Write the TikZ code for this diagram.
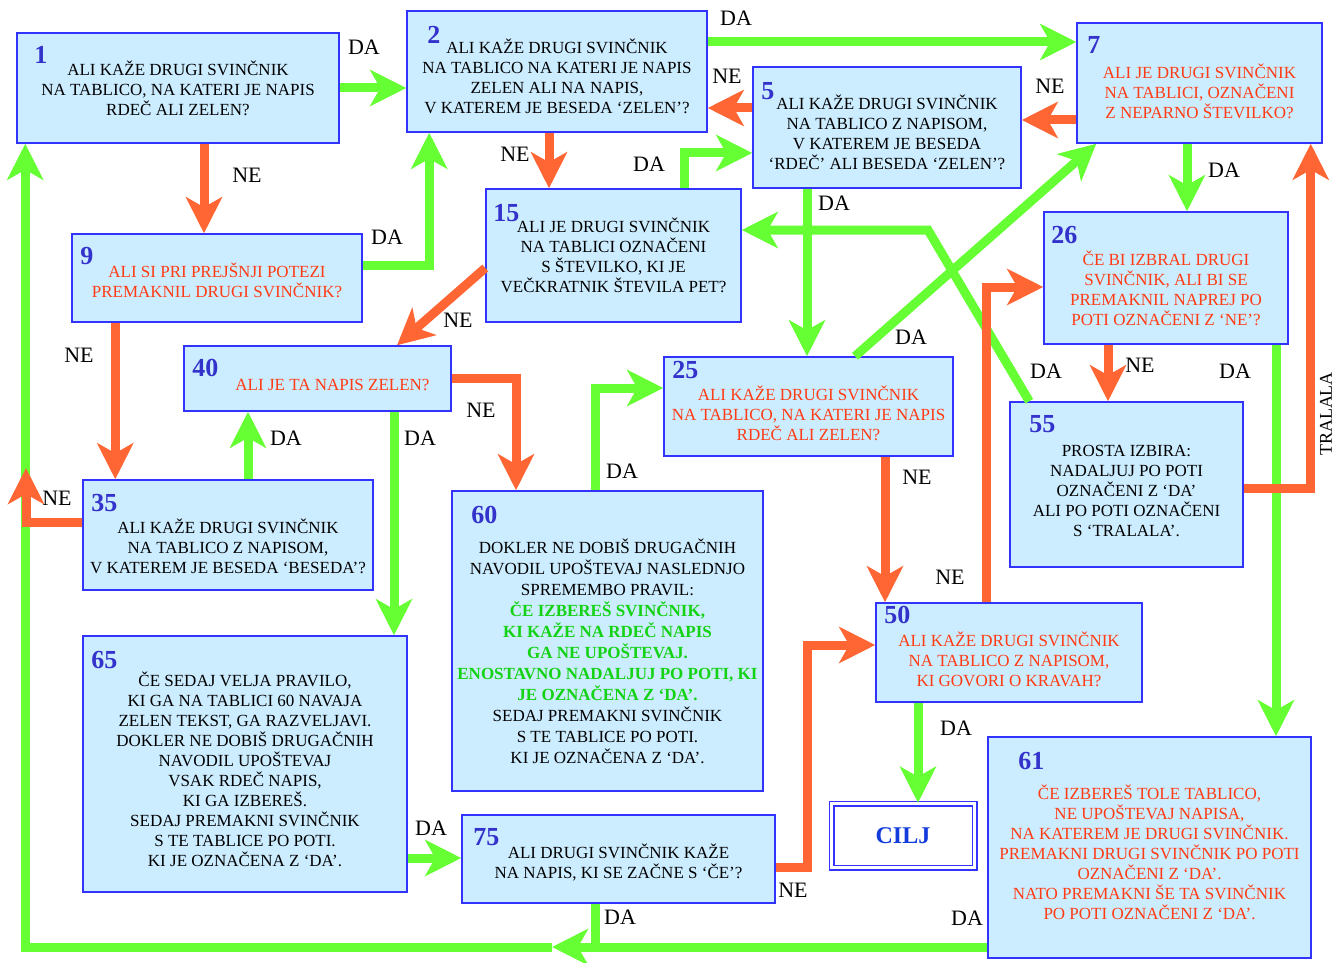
\documentclass[tikz,border=0pt]{standalone}
\usepackage{fontspec}
\setmainfont{Liberation Serif}
\usetikzlibrary{arrows.meta}

\definecolor{boxfill}{RGB}{204,236,255}
\definecolor{boxline}{RGB}{51,51,255}
\definecolor{numblue}{RGB}{51,51,204}
\definecolor{redtext}{RGB}{255,60,20}
\definecolor{greentext}{RGB}{20,210,20}
\definecolor{linegreen}{RGB}{102,255,51}
\definecolor{lineorange}{RGB}{255,102,51}
\definecolor{ciljblue}{RGB}{20,60,220}

\newcommand{\grn}[1]{\textcolor{greentext}{\textbf{#1}}}
\newcommand{\topgap}[1]{\rule{0pt}{#1}}

\begin{document}
\begin{tikzpicture}[x=1pt, y=-1pt,
  box/.style={rectangle, draw=boxline, line width=1.5pt, fill=boxfill, align=center, inner sep=0pt, font=\fontsize{17}{20}\selectfont},
  rbox/.style={box, text=redtext},
  num/.style={anchor=north west, inner sep=0pt, text=numblue, font=\fontsize{26}{26}\selectfont\bfseries},
  goal/.style={rectangle, draw=boxline, double=white, double distance=3pt, line width=1.5pt, fill=white, inner sep=0pt, text=ciljblue, font=\fontsize{24}{24}\selectfont\bfseries},
  daline/.style={line width=9pt, draw=linegreen},
  daflow/.style={daline, -{Stealth[length=36pt, width=36pt, inset=10pt]}},
  neflow/.style={line width=9pt, draw=lineorange, -{Stealth[length=36pt, width=36pt, inset=10pt]}},
  lbl/.style={inner sep=0pt, text=black, font=\fontsize{22}{22}\selectfont}
]
  \useasboundingbox (0,0) rectangle (1342,963);

  % boxes
  \node[box, minimum width=322pt, minimum height=110pt, label={[num, xshift=18pt, yshift=-14pt]north west:1}] (b1) at (178,88)
    {ALI KAŽE DRUGI SVINČNIK\\NA TABLICO, NA KATERI JE NAPIS\\RDEČ ALI ZELEN?};
  \node[box, minimum width=300pt, minimum height=121pt, label={[num, xshift=21pt, yshift=-16pt]north west:2}] (b2) at (557,71.5)
    {\topgap{25pt}ALI KAŽE DRUGI SVINČNIK\\NA TABLICO NA KATERI JE NAPIS\\ZELEN ALI NA NAPIS,\\V KATEREM JE BESEDA ‘ZELEN’?};
  \node[rbox, minimum width=245pt, minimum height=120pt, label={[num, xshift=11pt, yshift=-14pt]north west:7}] (b7) at (1199.5,83)
    {\topgap{31pt}ALI JE DRUGI SVINČNIK\\NA TABLICI, OZNAČENI\\Z NEPARNO ŠTEVILKO?};
  \node[box, minimum width=268pt, minimum height=121pt, label={[num, xshift=9pt, yshift=-16pt]north west:5}] (b5) at (887,127.5)
    {\topgap{25pt}ALI KAŽE DRUGI SVINČNIK\\NA TABLICO Z NAPISOM,\\V KATEREM JE BESEDA\\‘RDEČ’ ALI BESEDA ‘ZELEN’?};
  \node[box, minimum width=255pt, minimum height=133pt, label={[num, xshift=8pt, yshift=-16pt]north west:15}] (b15) at (613.5,255.5)
    {ALI JE DRUGI SVINČNIK\\NA TABLICI OZNAČENI\\S ŠTEVILKO, KI JE\\VEČKRATNIK ŠTEVILA PET?};
  \node[rbox, minimum width=290pt, minimum height=88pt, label={[num, xshift=9pt, yshift=-14pt]north west:9}] (b9) at (217,278)
    {\topgap{19pt}ALI SI PRI PREJŠNJI POTEZI\\PREMAKNIL DRUGI SVINČNIK?};
  \node[rbox, minimum width=244pt, minimum height=132pt, label={[num, xshift=8pt, yshift=-15pt]north west:26}] (b26) at (1166,278)
    {\topgap{35pt}ČE BI IZBRAL DRUGI\\SVINČNIK, ALI BI SE\\PREMAKNIL NAPREJ PO\\POTI OZNAČENI Z ‘NE’?};
  \node[rbox, minimum width=267pt, minimum height=65pt, label={[num, xshift=9pt, yshift=-14pt]north west:40}] (b40) at (317.5,378.5)
    {\topgap{24pt}\hspace*{30pt}ALI JE TA NAPIS ZELEN?};
  \node[rbox, minimum width=289pt, minimum height=99pt, label={[num, xshift=9pt, yshift=-5pt]north west:25}] (b25) at (808.5,406.5)
    {\topgap{29pt}ALI KAŽE DRUGI SVINČNIK\\NA TABLICO, NA KATERI JE NAPIS\\RDEČ ALI ZELEN?};
  \node[box, minimum width=233pt, minimum height=165pt, label={[num, xshift=20pt, yshift=-14pt]north west:55}] (b55) at (1126.5,484.5)
    {\topgap{25pt}PROSTA IZBIRA:\\NADALJUJ PO POTI\\OZNAČENI Z ‘DA’\\ALI PO POTI OZNAČENI\\S ‘TRALALA’.};
  \node[box, minimum width=290pt, minimum height=110pt, label={[num, xshift=9pt, yshift=-15pt]north west:35}] (b35) at (228,535)
    {\topgap{37pt}ALI KAŽE DRUGI SVINČNIK\\NA TABLICO Z NAPISOM,\\V KATEREM JE BESEDA ‘BESEDA’?};
  \node[box, font=\fontsize{17}{21}\selectfont, minimum width=311pt, minimum height=300pt, label={[num, xshift=20pt, yshift=-16pt]north west:60}] (b60) at (607.5,641)
    {\topgap{36pt}DOKLER NE DOBIŠ DRUGAČNIH\\NAVODIL UPOŠTEVAJ NASLEDNJO\\SPREMEMBO PRAVIL:\\
     \grn{ČE IZBEREŠ SVINČNIK,}\\\grn{KI KAŽE NA RDEČ NAPIS}\\\grn{GA NE UPOŠTEVAJ.}\\
     \grn{ENOSTAVNO NADALJUJ PO POTI, KI}\\\grn{JE OZNAČENA Z ‘DA’.}\\
     SEDAJ PREMAKNI SVINČNIK\\S TE TABLICE PO POTI.\\KI JE OZNAČENA Z ‘DA’.};
  \node[box, minimum width=324pt, minimum height=256pt, label={[num, xshift=9pt, yshift=-16pt]north west:65}] (b65) at (245,764)
    {\topgap{25pt}ČE SEDAJ VELJA PRAVILO,\\KI GA NA TABLICI 60 NAVAJA\\ZELEN TEKST, GA RAZVELJAVI.\\DOKLER NE DOBIŠ DRUGAČNIH\\NAVODIL UPOŠTEVAJ\\VSAK RDEČ NAPIS,\\KI GA IZBEREŠ.\\SEDAJ PREMAKNI SVINČNIK\\S TE TABLICE PO POTI.\\KI JE OZNAČENA Z ‘DA’.};
  \node[rbox, minimum width=266pt, minimum height=99pt, label={[num, xshift=9pt, yshift=-4pt]north west:50}] (b50) at (1009,652.5)
    {\topgap{29pt}ALI KAŽE DRUGI SVINČNIK\\NA TABLICO Z NAPISOM,\\KI GOVORI O KRAVAH?};
  \node[goal, minimum width=143pt, minimum height=64pt] (bcilj) at (903,835.5) {CILJ};
  \node[rbox, minimum width=323pt, minimum height=221pt, label={[num, xshift=31pt, yshift=-16pt]north west:61}] (b61) at (1149.5,847.5)
    {\topgap{24pt}ČE IZBEREŠ TOLE TABLICO,\\NE UPOŠTEVAJ NAPISA,\\NA KATEREM JE DRUGI SVINČNIK.\\PREMAKNI DRUGI SVINČNIK PO POTI\\OZNAČENI Z ‘DA’.\\NATO PREMAKNI ŠE TA SVINČNIK\\PO POTI OZNAČENI Z ‘DA’.};
  \node[box, minimum width=313pt, minimum height=88pt, label={[num, xshift=12pt, yshift=-14pt]north west:75}] (b75) at (618.5,859)
    {\topgap{21pt}ALI DRUGI SVINČNIK KAŽE\\NA NAPIS, KI SE ZAČNE S ‘ČE’?};

  % bend points
  \coordinate (k55) at (928,230);
  \coordinate (k35) at (26,468);
  \coordinate (k61) at (552,947);

  % connectors
  \draw[daflow] (b1.east) -- (b1.east -| b2.west) node[lbl] (t1) at (364,47) {DA};
  \draw[neflow] ([xshift=26pt]b1.south) -- ([xshift=26pt]b1.south |- b9.north) node[lbl] (t2) at (247,175) {NE};
  \draw[daflow] ([yshift=13pt]b9.east) -| ([xshift=23pt]b2.south west) node[lbl] (t3) at (387,237) {DA};
  \draw[daflow] ([yshift=29.5pt]b2.east) -- ([yshift=29.5pt]b2.east -| b7.west) node[lbl] (t4) at (736,18) {DA};
  \draw[neflow] ([xshift=-8pt]b2.south) -- ([xshift=-8pt]b2.south |- b15.north) node[lbl] (t5) at (515,154) {NE};
  \draw[neflow] ([yshift=19.5pt]b5.west) -- ([yshift=19.5pt]b5.west -| b2.east) node[lbl] (t6) at (727,76) {NE};
  \draw[daflow] ([xshift=70.5pt]b15.north) |- ([yshift=-25.5pt]b5.west) node[lbl] (t7) at (649,164) {DA};
  \draw[neflow] ([yshift=-37pt]b7.west) -- ([yshift=-37pt]b7.west -| b5.east) node[lbl] (t8) at (1050,86) {NE};
  \draw[daflow] ([xshift=-12.5pt]b7.south) -- ([xshift=-12.5pt]b7.south |- b26.north) node[lbl] (t9) at (1224,170) {DA};
  \draw[daflow] ([xshift=-80pt]b5.south) -- ([xshift=-80pt]b5.south |- b25.north) node[lbl] (t10) at (834,203) {DA};
  \draw[daflow] ([xshift=46.5pt]b25.north) -- ([xshift=20pt]b7.south west) node[lbl] (t11) at (911,337) {DA};
  \draw[daflow] ([xshift=20pt]b55.north west) -- (k55) -- (k55 -| b15.east) node[lbl] (t12) at (1046,371) {DA};
  \draw[neflow] ([yshift=-12.5pt]b15.west) -- ([xshift=79.5pt]b40.north) node[lbl] (t13) at (458,320) {NE};
  \draw[neflow] ([xshift=44pt]b9.south west) -- ([xshift=44pt]b9.south west |- b35.north) node[lbl] (t14) at (79,355) {NE};
  \draw[daflow] ([xshift=20pt]b35.north) -- ([xshift=20pt]b35.north |- b40.south) node[lbl] (t15) at (286,438) {DA};
  \draw[neflow] (b40.east) -| ([xshift=-91.5pt]b60.north) node[lbl] (t16) at (481,410) {NE};
  \draw[daflow] ([xshift=76.5pt]b40.south) -- ([xshift=76.5pt]b40.south |- b65.north) node[lbl] (t17) at (420,438) {DA};
  \draw[daflow] ([yshift=-99.5pt]b61.west) -- (k61) node[lbl] (t18) at (967,918) {DA};
  \draw[daflow] (k61) -| ([xshift=9pt]b1.south west);
  \draw[neflow] ([yshift=13pt]b35.west) -| (k35) node[lbl] (t19) at (57,498) {NE};
  \draw[daline] ([xshift=-23.5pt]b75.south) -- ([xshift=-23.5pt]b75.south |- k61) node[lbl] (t20) at (620,917) {DA};
  \draw[daflow] ([xshift=-12.5pt]b60.north) |- ([yshift=18.5pt]b25.west) node[lbl] (t21) at (622,471) {DA};
  \draw[neflow] ([xshift=76.5pt]b25.south) -- ([xshift=76.5pt]b25.south |- b50.north) node[lbl] (t22) at (917,477) {NE};
  \draw[neflow] ([xshift=-23pt]b50.north) |- ([yshift=-9pt]b26.west) node[lbl] (t23) at (950,577) {NE};
  \draw[neflow] ([xshift=-58pt]b26.south) -- ([xshift=-58pt]b26.south |- b55.north) node[lbl] (t24) at (1140,365) {NE};
  \draw[daflow] ([xshift=110pt]b26.south) -- ([xshift=110pt]b26.south |- b61.north) node[lbl] (t25) at (1235,371) {DA};
  \draw[neflow] ([yshift=-3.5pt]b55.east) -| ([xshift=-12pt]b7.south east) node[lbl, rotate=90, font=\fontsize{18}{18}\selectfont] (t26) at (1326,414) {TRALALA};
  \draw[daflow] ([xshift=-91pt]b50.south) -- ([xshift=-91pt]b50.south |- bcilj.north) node[lbl] (t27) at (956,728) {DA};
  \draw[daflow] ([yshift=-94pt]b65.east) -- ([yshift=-94pt]b65.east -| b75.west) node[lbl] (t28) at (431,828) {DA};
  \draw[neflow] ([yshift=-8pt]b75.east) -- ++(32pt,0) |- ([yshift=7.5pt]b50.west) node[lbl] (t29) at (793,890) {NE};
\end{tikzpicture}
\end{document}
